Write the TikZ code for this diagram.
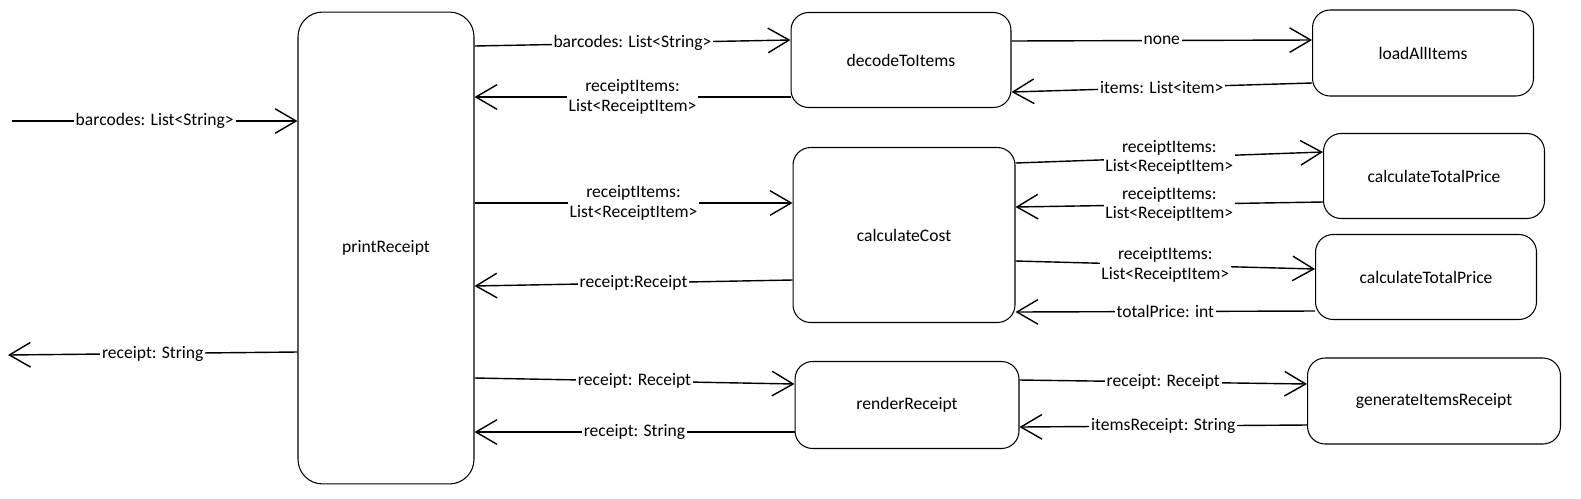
\documentclass[tikz,border=0pt]{standalone}
\usepackage{fontspec}
\setmainfont{Carlito}
\usetikzlibrary{arrows.meta}
\tikzset{
  func/.style={draw, line width=0.6pt, rounded corners=10pt, inner sep=2pt},
  flow/.style={line width=0.8pt, -{Straight Barb[length=12pt,width=14pt]}},
  lbl/.style={fill=white, inner sep=1pt, align=center},
}

\begin{document}
\begin{tikzpicture}[x=0.02cm, y=-0.02cm, font=\fontsize{10}{11}\selectfont]
\useasboundingbox (0,0) rectangle (1581,498);
% functions
\node[func, rounded corners=14pt, minimum width=3.52cm, minimum height=9.44cm] (printReceipt) at (386,248) {printReceipt};
\node[func, minimum width=4.4cm, minimum height=1.9cm] (decodeToItems) at (901,60) {decodeToItems};
\node[func, minimum width=4.42cm, minimum height=1.72cm] (loadAllItems) at (1423,53) {loadAllItems};
\node[func, minimum width=4.44cm, minimum height=3.5cm] (calculateCost) at (904,235) {calculateCost};
\node[func, minimum width=4.42cm, minimum height=1.7cm] (totalPriceA) at (1434,176) {calculateTotalPrice};
\node[func, minimum width=4.42cm, minimum height=1.7cm] (totalPriceB) at (1426,277) {calculateTotalPrice};
\node[func, minimum width=4.48cm, minimum height=1.74cm] (renderReceipt) at (907,405) {renderReceipt};
\node[func, minimum width=5.06cm, minimum height=1.72cm] (itemsReceipt) at (1434,401) {generateItemsReceipt};
\coordinate (input) at (12,121);
\coordinate (output) at (8,355);

% in and out
\draw[flow] (input) -- node[lbl]{barcodes: List<String>} (printReceipt.west |- 0,121);
\draw[flow] (printReceipt.west |- 0,352) -- node[lbl]{receipt: String} (output);

% printReceipt <-> callees
\draw[flow] (printReceipt.east |- 0,46) -- node[lbl]{barcodes: List<String>} (decodeToItems.west |- 0,40);
\draw[flow] (decodeToItems.west |- 0,97) -- node[lbl]{receiptItems:\\List<ReceiptItem>} (printReceipt.east |- 0,97);
\draw[flow] (printReceipt.east |- 0,203) -- node[lbl]{receiptItems:\\List<ReceiptItem>} (calculateCost.west |- 0,203);
\draw[flow] (calculateCost.west |- 0,280) -- node[lbl]{receipt:Receipt} (printReceipt.east |- 0,286);
\draw[flow] (printReceipt.east |- 0,378) -- node[lbl]{receipt: Receipt} (renderReceipt.west |- 0,384);
\draw[flow] (renderReceipt.west |- 0,432) -- node[lbl]{receipt: String} (printReceipt.east |- 0,432);

% second level
\draw[flow] (decodeToItems.east |- 0,41) -- node[lbl]{none} (loadAllItems.west |- 0,40);
\draw[flow] (loadAllItems.west |- 0,83) -- node[lbl]{items: List<item>} (decodeToItems.east |- 0,92);
\draw[flow] (calculateCost.east |- 0,163) -- node[lbl]{receiptItems:\\List<ReceiptItem>} (totalPriceA.west |- 0,152);
\draw[flow] (totalPriceA.west |- 0,202) -- node[lbl]{receiptItems:\\List<ReceiptItem>} (calculateCost.east |- 0,207);
\draw[flow] (calculateCost.east |- 0,261) -- node[lbl]{receiptItems:\\List<ReceiptItem>} (totalPriceB.west |- 0,269);
\draw[flow] (totalPriceB.west |- 0,311) -- node[lbl]{totalPrice: int} (calculateCost.east |- 0,312);
\draw[flow] (renderReceipt.east |- 0,380) -- node[lbl]{receipt: Receipt} (itemsReceipt.west |- 0,384);
\draw[flow] (itemsReceipt.west |- 0,425) -- node[lbl]{itemsReceipt: String} (renderReceipt.east |- 0,427);
\end{tikzpicture}
\end{document}
